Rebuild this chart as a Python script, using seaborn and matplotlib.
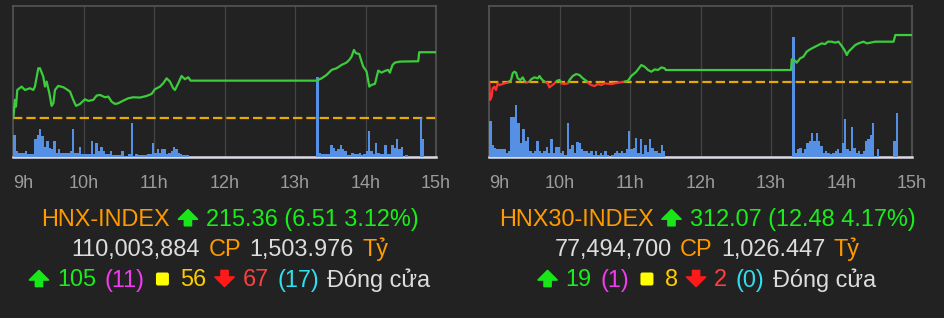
import numpy as np
import pandas as pd
import matplotlib
matplotlib.use("Agg")
import matplotlib.pyplot as plt
import seaborn as sns
from matplotlib.transforms import IdentityTransform
from matplotlib.patches import Polygon, FancyBboxPatch

# ---------------- data ----------------
hour_labels = ["9h", "10h", "11h", "12h", "13h", "14h", "15h"]

# HNX-INDEX intraday (minutes after 9:00, index level)
hnx_ref = 208.85
hnx_t = [0, 1.4, 2.3, 3.4, 7.1, 9.9, 14.2, 17.0, 18.4, 21.3, 22.7, 25.5, 27.0, 28.4,
         30.7, 32.6, 34.1, 35.5, 38.3, 42.6, 45.4, 48.3, 51.1, 53.4, 56.8, 61.0, 63.9,
         68.1, 71.0, 73.8, 78.1, 80.9, 83.7, 86.6, 89.4, 93.7, 97.9, 102.2, 107.9,
         113.5, 117.8, 120.6, 124.9, 127.7, 130.6, 133.4, 136.2, 137.7, 140.5, 143.3,
         146.2, 149.0, 151.0, 257.7, 259.7, 262.6, 266.8, 271.1, 275.3, 279.6, 283.8,
         286.1, 288.1, 290.1, 291.8, 294.6, 296.6, 298.0, 300.9, 303.2, 305.1, 308.0,
         310.8, 313.6, 316.5, 319.3, 320.7, 323.0, 325.0, 329.3, 344.9, 345.7, 360]
hnx_v = [208.85, 210.66, 210.00, 211.64, 211.97, 211.64, 211.81, 211.64, 211.97, 213.78,
         213.78, 212.96, 211.97, 212.47, 211.32, 210.07, 210.33, 211.64, 212.04, 211.91,
         211.71, 211.48, 210.66, 210.07, 210.26, 210.72, 210.56, 210.66, 211.09, 211.15,
         210.92, 210.99, 210.49, 210.26, 210.33, 210.59, 210.82, 210.92, 210.89, 211.05,
         211.25, 211.71, 211.97, 212.30, 212.79, 212.47, 211.81, 211.64, 212.30, 213.02,
         212.70, 212.89, 212.56, 212.56, 212.63, 212.79, 213.12, 213.62, 213.78, 214.11,
         214.34, 214.60, 214.93, 215.59, 215.26, 215.19, 214.44, 213.95, 213.45, 211.97,
         212.14, 212.24, 213.55, 213.35, 213.52, 213.62, 213.35, 214.11, 214.34, 214.44,
         214.47, 215.36, 215.36]
# volume per 2-minute bin, morning from 9:00, afternoon from 13:00
hnx_vol_am = [65, 17, 10, 10, 10, 17, 9, 9, 9, 52, 65, 82, 62, 29, 47, 27, 22, 47, 12, 22,
              10, 10, 10, 10, 17, 82, 12, 12, 29, 7, 7, 7, 7, 47, 9, 40, 17, 29, 17, 9,
              9, 17, 5, 5, 5, 5, 17, 2, 2, 9, 100, 2, 7, 4, 4, 4, 4, 9, 9, 42,
              12, 24, 12, 22, 22, 7, 12, 17, 29, 22, 12, 9, 5, 5, 5]
hnx_vol_pm = [0, 0, 0, 0, 0, 0, 0, 0, 0, 240, 12, 7, 7, 7, 7, 35, 25, 17, 22, 35,
              22, 17, 5, 5, 12, 7, 7, 12, 5, 9, 17, 77, 17, 9, 42, 12, 9, 9, 34, 7,
              7, 35, 27, 52, 22, 29, 0, 5, 0, 0, 0, 0, 0, 117, 54]

# HNX30-INDEX intraday
hnx30_ref = 299.59
hnx30_t = [0, 0.6, 2.0, 2.8, 4.3, 5.7, 7.1, 8.5, 12.8, 15.7, 18.5, 19.9, 21.3, 22.8, 24.2,
           26.5, 28.5, 29.9, 31.3, 34.1, 35.6, 38.4, 41.3, 42.7, 44.7, 47.0, 49.8, 51.2,
           52.6, 54.9, 57.8, 59.8, 61.2, 64.0, 66.9, 68.3, 71.1, 74.0, 76.8, 79.7, 82.5,
           83.9, 86.8, 89.6, 92.5, 95.3, 98.2, 103.9, 109.6, 115.3, 118.1, 120.9, 125.2,
           129.5, 132.3, 135.2, 138.0, 140.9, 143.7, 146.6, 149.4, 150.3, 257.0, 257.6,
           260.4, 261.8, 264.7, 267.5, 270.3, 273.2, 277.5, 280.3, 283.1, 286.0, 288.3,
           291.7, 294.5, 297.4, 300.2, 302.5, 304.5, 305.9, 308.8, 311.6, 314.5, 318.7,
           321.6, 324.4, 328.7, 344.3, 345.8, 360]
hnx30_v = [299.59, 294.69, 295.58, 297.81, 298.25, 297.36, 299.14, 298.70, 299.14, 299.32,
           300.04, 301.82, 302.26, 302.00, 300.48, 300.04, 300.75, 299.86, 299.32, 299.59,
           300.21, 300.75, 300.48, 301.11, 300.21, 299.59, 299.14, 298.07, 298.43, 298.97,
           299.86, 300.04, 299.14, 298.97, 299.14, 300.04, 301.11, 301.64, 301.37, 300.48,
           299.86, 299.32, 298.70, 298.43, 298.97, 298.70, 299.14, 298.97, 299.32, 299.59,
           299.86, 301.11, 302.26, 304.05, 303.60, 302.71, 302.26, 302.89, 302.71, 303.42,
           303.16, 302.71, 302.71, 305.56, 305.20, 304.67, 305.83, 306.27, 307.61, 308.24,
           308.95, 309.39, 309.84, 309.66, 310.29, 310.29, 310.02, 310.29, 309.13, 308.06,
           306.72, 307.61, 308.50, 309.39, 309.84, 310.29, 309.84, 310.02, 310.29, 310.29,
           312.07, 312.07]
hnx30_vol_am = [107, 34, 27, 22, 22, 22, 22, 12, 17, 119, 119, 155, 102, 42, 82, 47, 59, 17,
                12, 17, 47, 17, 12, 17, 30, 12, 54, 12, 30, 30, 12, 17, 4, 102, 24, 35,
                12, 45, 40, 22, 17, 17, 10, 17, 4, 17, 4, 12, 4, 17, 4, 0, 4, 12, 17,
                12, 17, 12, 22, 77, 22, 27, 57, 12, 52, 7, 34, 14, 54, 27, 17, 17, 12, 34, 17]
hnx30_vol_pm = [0, 0, 0, 0, 0, 0, 0, 0, 0, 360, 10, 22, 27, 10, 22, 42, 47, 70, 47, 70,
                47, 32, 12, 17, 12, 7, 10, 17, 22, 12, 42, 114, 24, 17, 90, 25, 12, 17, 7, 17,
                47, 54, 64, 100, 2, 24, 0, 0, 0, 0, 0, 0, 47, 132, 0]

# summary text ("^" = up arrow icon, "v" = down arrow icon, "#" = square icon)
hnx_lines = [
    [("HNX-INDEX", "orange"), ("^", "arrow_up"), ("215.36 (6.51 3.12%)", "green")],
    [("110,003,884", "gray"), ("CP", "orange"), ("1,503.976", "gray"), ("Tỷ", "orange")],
    [("^", "arrow_up"), ("105", "green"), ("(11)", "magenta"), ("#", "yellow"),
     ("56", "gold"), ("v", "arrow_dn"), ("67", "red"), ("(17)", "cyan"), ("Đóng cửa", "gray")],
]
hnx30_lines = [
    [("HNX30-INDEX", "orange"), ("^", "arrow_up"), ("312.07 (12.48 4.17%)", "green")],
    [("77,494,700", "gray"), ("CP", "orange"), ("1,026.447", "gray"), ("Tỷ", "orange")],
    [("^", "arrow_up"), ("19", "green"), ("(1)", "magenta"), ("#", "yellow"),
     ("8", "gold"), ("v", "arrow_dn"), ("2", "red"), ("(0)", "cyan"), ("Đóng cửa", "gray")],
]

# ---------------- style ----------------
BG = "#222222"
COLORS = {"orange": "#ff9a00", "arrow_up": "#19e619", "green": "#1aee1a", "gray": "#dddddd",
          "magenta": "#f03cf0", "yellow": "#ffff00", "gold": "#ffcc00", "arrow_dn": "#ff1a1a",
          "red": "#ff4040", "cyan": "#2ee0ee"}
LINE_UP = "#3ccc3c"
LINE_DN = "#ff3030"
DASH = "#e6aa00"
BAR = "#5590e4"
GRID = "#444444"

sns.set_theme(style="dark")
plt.rcParams["font.family"] = ["Liberation Sans", "DejaVu Sans"]

W, H, DPI = 944, 318, 100
fig = plt.figure(figsize=(W / DPI, H / DPI), dpi=DPI, facecolor=BG)


def segments(t, v, ref):
    pts = []
    for i in range(len(t) - 1):
        pts.append((t[i], v[i]))
        if (v[i] - ref) * (v[i + 1] - ref) < 0:
            tc = t[i] + (ref - v[i]) * (t[i + 1] - t[i]) / (v[i + 1] - v[i])
            pts.append((tc, ref))
    pts.append((t[-1], v[-1]))
    rows, seg, prev = [], -1, None
    for k in range(len(pts) - 1):
        (ta, va), (tb, vb) = pts[k], pts[k + 1]
        s = "up" if (va + vb) / 2 >= ref - 1e-9 else "down"
        if s != prev:
            seg += 1
            rows.append((seg, s, ta, va))
            prev = s
        rows.append((seg, s, tb, vb))
    return pd.DataFrame(rows, columns=["seg", "side", "t", "v"])


def panel(x0, x1, t, v, ref, vol_am, vol_pm, ylim):
    y0, y1 = 5.7, 156.7
    rect = [x0 / W, 1 - y1 / H, (x1 - x0) / W, (y1 - y0) / H]
    ax = fig.add_axes(rect)
    ax.set_facecolor(BG)
    ax.set_xlim(0, 360)
    ax.set_ylim(*ylim)
    ax.axhline(ref, color=DASH, lw=1.6, dashes=(4.2, 1.8), zorder=1)
    for m in range(60, 360, 60):
        ax.axvline(m, color=GRID, lw=0.9, zorder=0)
    ax.set_xticks(np.arange(0, 361, 60))
    ax.set_xticklabels(hour_labels)
    ax.tick_params(axis="x", length=0, pad=13, colors="#9c9c9c", labelsize=13)
    ax.get_xticklabels()[0].set_horizontalalignment("left")
    ax.set_yticks([])
    ax.grid(False)
    for side in ["top", "left", "right"]:
        ax.spines[side].set_color("#555555")
        ax.spines[side].set_linewidth(1.2)
        ax.spines[side].set_visible(True)
    ax.spines["bottom"].set_color("#dcdce4")
    ax.spines["bottom"].set_linewidth(1.8)
    ax.spines["bottom"].set_visible(True)
    ax.spines["bottom"].set_zorder(5)

    # volume bars
    axv = ax.twinx()
    centers = [2 * i + 1 for i in range(len(vol_am))] + [240 + 2 * j + 1 for j in range(len(vol_pm))]
    weights = list(vol_am) + list(vol_pm)
    vdf = pd.DataFrame({"t": centers, "w": weights})
    sns.histplot(data=vdf, x="t", weights="w", binwidth=2, binrange=(0, 360), ax=axv,
                 color=BAR, alpha=1.0, linewidth=0)
    axv.set_ylim(0, 453)
    axv.set_xlim(0, 360)

    # price line
    axl = ax.twinx()
    df = segments(t, v, ref)
    sns.lineplot(data=df, x="t", y="v", units="seg", hue="side", estimator=None, sort=False,
                 palette={"up": LINE_UP, "down": LINE_DN}, linewidth=1.6, ax=axl, legend=False)
    axl.set_ylim(*ylim)
    axl.set_xlim(0, 360)
    for a in (axv, axl):
        a.set_yticks([])
        a.set_ylabel("")
        a.set_xlabel("")
        a.grid(False)
        for s in a.spines.values():
            s.set_visible(False)
    ax.set_xlabel("")
    ax.set_ylabel("")
    return ax


panel(13.3, 436.0, hnx_t, hnx_v, hnx_ref, hnx_vol_am, hnx_vol_pm, (205.06, 219.95))
panel(489.3, 912.0, hnx30_t, hnx30_v, hnx30_ref, hnx30_vol_am, hnx30_vol_pm, (279.54, 319.91))

renderer = fig.canvas.get_renderer()
SIZE = 16.9
GAP = 8.5
TXT_FAM = ["Liberation Sans", "DejaVu Sans"]
ARROW_W, ARROW_H, HEAD_H, SHAFT_W = 19.0, 16.0, 9.5, 7.0
SQ = 13.0
SQ_SLOT = 19.0
IDT = IdentityTransform()


def arrow_pts(x, base, up):
    w, h, hh, sw = ARROW_W, ARROW_H, HEAD_H, SHAFT_W
    c = x + w / 2
    if up:
        pts = [(c, base + h), (x + w, base + h - hh), (c + sw / 2, base + h - hh),
               (c + sw / 2, base), (c - sw / 2, base), (c - sw / 2, base + h - hh),
               (x, base + h - hh)]
    else:
        pts = [(c, base), (x + w, base + hh), (c + sw / 2, base + hh),
               (c + sw / 2, base + h), (c - sw / 2, base + h), (c - sw / 2, base + hh),
               (x, base + hh)]
    return pts


def rich(cx, baseline_from_top, parts):
    base = H - baseline_from_top
    items = []
    for s, ckey in parts:
        col = COLORS[ckey]
        if s in ("^", "v"):
            items.append(("arrow", s == "^", col, ARROW_W))
        elif s == "#":
            items.append(("square", None, col, SQ_SLOT))
        else:
            txt = fig.text(0, base, s, color=col, fontsize=SIZE, family=TXT_FAM,
                           ha="left", va="baseline", transform=IDT)
            items.append(("text", txt, col, txt.get_window_extent(renderer=renderer).width))
    total = sum(it[3] for it in items) + GAP * (len(items) - 1)
    x = cx - total / 2
    for kind, obj, col, w in items:
        if kind == "text":
            obj.set_x(x)
        elif kind == "arrow":
            fig.add_artist(Polygon(arrow_pts(x, base, obj), closed=True, facecolor=col,
                                   edgecolor=col, linewidth=1.2, joinstyle="round",
                                   transform=IDT))
        else:
            sx = x + (SQ_SLOT - SQ) / 2
            fig.add_artist(FancyBboxPatch((sx + 2.0, base + 3.0), SQ - 4, SQ - 4,
                                          boxstyle="round,pad=2.0", facecolor=col,
                                          edgecolor="none", transform=IDT))
        x += w + GAP


for cx, lines in ((230, hnx_lines), (707, hnx30_lines)):
    for bl, parts in zip((225.7, 256.0, 286.5), lines):
        rich(cx, bl, parts)

fig.savefig("out.png", dpi=DPI, facecolor=BG)
